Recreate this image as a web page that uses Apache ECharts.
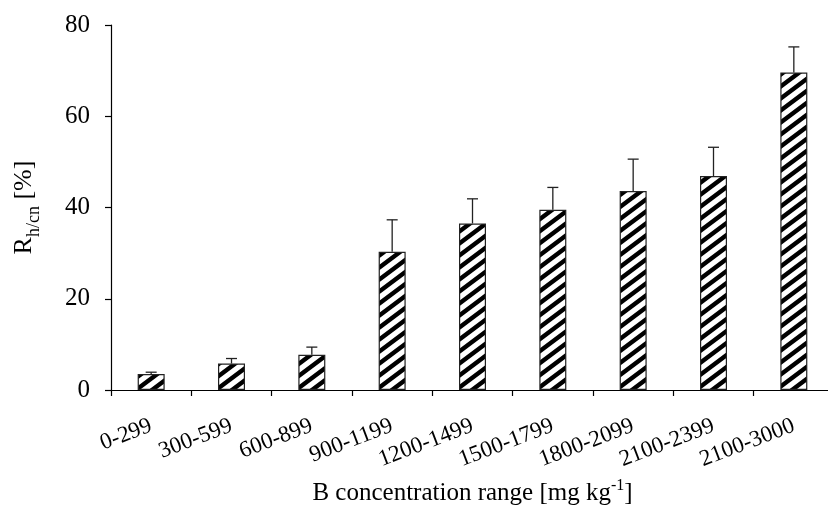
<!DOCTYPE html>
<html>
<head>
<meta charset="utf-8">
<script src="https://cdn.jsdelivr.net/npm/echarts@6/dist/echarts.min.js"></script>
<style>html,body{margin:0;padding:0;background:#fff}#c{width:828px;height:506px}</style>
</head>
<body>
<div id="c"></div>
<script>
const categories = ['0-299','300-599','600-899','900-1199','1200-1499','1500-1799','1800-2099','2100-2399','2100-3000'];
const values = [3.5, 5.8, 7.7, 30.3, 36.5, 39.5, 43.6, 46.9, 69.6];
const errors = [0.4, 1.1, 1.7, 7.0, 5.4, 4.9, 7.0, 6.3, 5.6];
const yTicks = [0, 20, 40, 60, 80];

function makePattern() {
  const W = 16, H = 12;
  const cv = document.createElement('canvas');
  cv.width = W; cv.height = H;
  const ctx = cv.getContext('2d');
  ctx.fillStyle = '#fff';
  ctx.fillRect(0, 0, W, H);
  ctx.strokeStyle = '#000';
  ctx.lineWidth = 4.4;
  ctx.lineCap = 'square';
  ctx.beginPath();
  for (const x0 of [-2 * W, -W, 0, W, 2 * W]) {
    ctx.moveTo(x0 - W, 2 * H); ctx.lineTo(x0 + 2 * W, -H);
  }
  ctx.stroke();
  return cv;
}

const FONT = 'Liberation Serif';
const chart = echarts.init(document.getElementById('c'), null, {renderer: 'canvas'});
chart.setOption({
  animation: false,
  backgroundColor: '#fff',
  grid: {left: 111, top: 25, width: 723, bottom: 116, containLabel: false, outerBoundsMode: 'none'},
  xAxis: {
    type: 'category',
    data: categories,
    name: '{a|B concentration range [mg kg}{s|-1}{a|]}',
    nameLocation: 'middle',
    nameGap: 88,
    nameTextStyle: {
      rich: {
        a: {fontFamily: FONT, fontSize: 25, color: '#000', lineHeight: 28, verticalAlign: 'bottom'},
        s: {fontFamily: FONT, fontSize: 16, color: '#000', lineHeight: 28, verticalAlign: 'top', padding: [0, 0, 10, 0]}
      }
    },
    axisLine: {lineStyle: {color: '#000', width: 1.2}},
    axisTick: {show: true, alignWithLabel: false, length: 6, lineStyle: {color: '#000', width: 1.2}},
    axisLabel: {rotate: 21, fontFamily: FONT, fontSize: 23, color: '#000', margin: 35, interval: 0}
  },
  yAxis: {
    type: 'value',
    min: 0, max: 80, interval: 20,
    name: '{a|R}{s|h/cn}{a| [%]}',
    nameLocation: 'middle',
    nameGap: 68,
    nameRotate: 90,
    nameTextStyle: {
      rich: {
        a: {fontFamily: FONT, fontSize: 26, color: '#000', lineHeight: 32, verticalAlign: 'top'},
        s: {fontFamily: FONT, fontSize: 18, color: '#000', lineHeight: 32, verticalAlign: 'bottom', padding: [10, 0, 0, 0]}
      }
    },
    axisLine: {show: true, lineStyle: {color: '#000', width: 1.2}},
    axisTick: {show: true, length: 6, lineStyle: {color: '#000', width: 1.2}},
    splitLine: {show: false},
    axisLabel: {
      fontFamily: FONT, fontSize: 25, color: '#000', margin: 21,
      formatter: v => yTicks.includes(v) ? String(v) : ''
    }
  },
  series: [
    {
      type: 'bar',
      data: values,
      barWidth: 27,
      itemStyle: {
        color: {image: makePattern(), repeat: 'repeat'},
        borderColor: '#222',
        borderWidth: 1.2
      },
      z: 2
    },
    {
      type: 'custom',
      data: values.map((v, i) => [i, v, v + errors[i]]),
      z: 3,
      renderItem: function (params, api) {
        const x = api.value(0);
        const base = api.coord([x, api.value(1)]);
        const top = api.coord([x, api.value(2)]);
        const hw = 5.5;
        const style = {stroke: '#222', lineWidth: 1.3, fill: null};
        return {
          type: 'group',
          children: [
            {type: 'line', shape: {x1: base[0], y1: base[1], x2: top[0], y2: top[1]}, style: style},
            {type: 'line', shape: {x1: top[0] - hw, y1: top[1], x2: top[0] + hw, y2: top[1]}, style: style}
          ]
        };
      }
    }
  ]
});
</script>
</body>
</html>
